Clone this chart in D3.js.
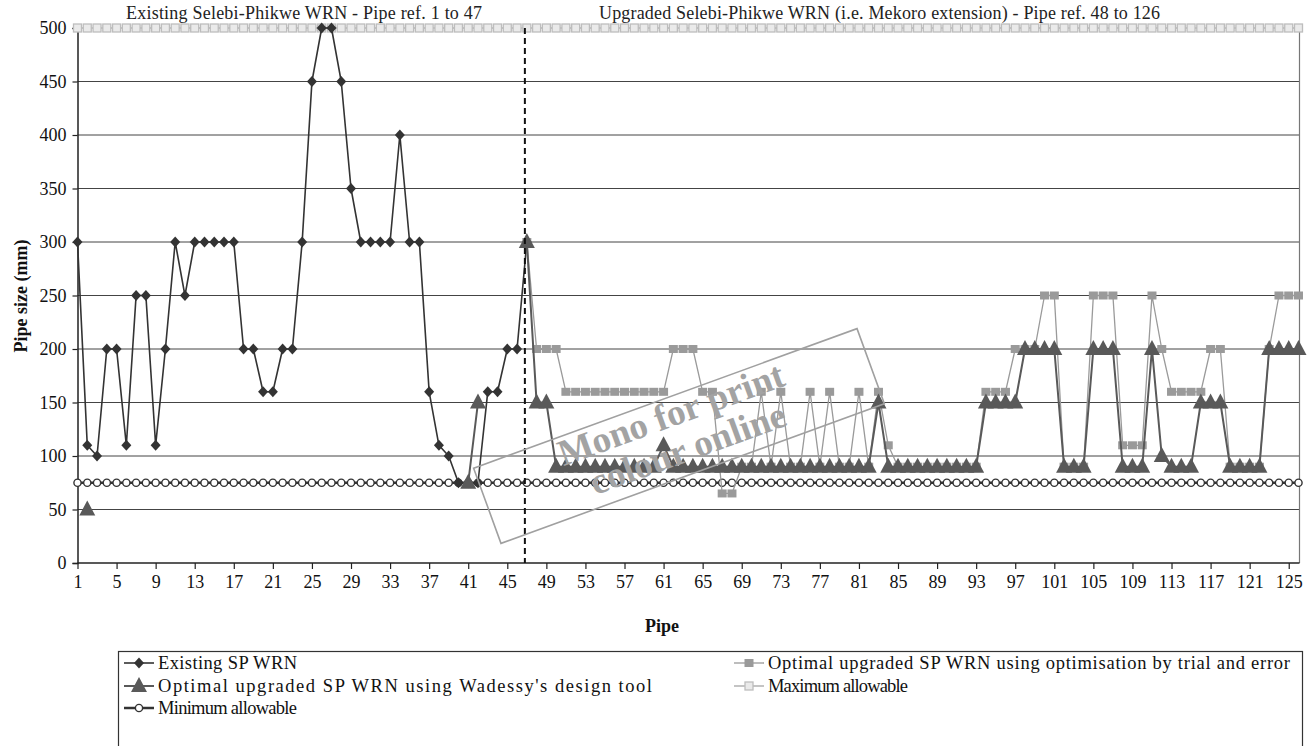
<!DOCTYPE html>
<html><head><meta charset="utf-8">
<script src="https://cdn.jsdelivr.net/npm/d3@7"></script>
<style>
body{margin:0;background:#fff}
svg text{font-family:"Liberation Serif","Times New Roman",serif}
</style>
</head><body>
<svg id="c" width="1308" height="746"></svg>
<script>
// ---------- data ----------
const pipes = d3.range(1, 127);                 // pipe references 1..126
const xTickLabels = [1,5,9,13,17,21,25,29,33,37,41,45,49,53,57,61,65,69,73,77,81,85,89,93,97,101,105,109,113,117,121,125];
const yTickLabels = [0,50,100,150,200,250,300,350,400,450,500];

// Existing SP WRN, pipes 1..47
const existingSize = [300,110,100,200,200,110,250,250,110,200,300,250,300,300,300,300,300,200,200,160,160,200,200,300,450,500,500,450,350,300,300,300,300,400,300,300,160,110,100,75,75,75,160,160,200,200,300];
// Optimal upgraded SP WRN (trial and error), pipes 47..126
const trialSize = [300,200,200,200,160,160,160,160,160,160,160,160,160,160,160,200,200,200,160,160,65,65,90,90,160,90,160,90,90,160,90,160,90,90,160,90,160,110,90,90,90,90,90,90,90,90,90,160,160,160,200,200,200,250,250,90,90,90,250,250,250,110,110,110,250,200,160,160,160,160,200,200,90,90,90,90,200,250,250,250];
// Optimal upgraded SP WRN (Wadessy's design tool), pipes 47..126
const wadessySize = [300,150,150,90,90,90,90,90,90,90,90,90,90,90,110,90,90,90,90,90,90,90,90,90,90,90,90,90,90,90,90,90,90,90,90,90,150,90,90,90,90,90,90,90,90,90,90,150,150,150,150,200,200,200,200,90,90,90,200,200,200,90,90,90,200,100,90,90,90,150,150,150,90,90,90,90,200,200,200,200];
// Wadessy's design tool, isolated points on the existing network (null = gap)
const wadessyEarlyPipes = [2,3,41,42,43];
const wadessyEarlySize = [50,null,75,150,null];
const maxAllowable = 500;
const minAllowable = 75;
const dividerPipe = 46.8;

const topTitles = ["Existing Selebi-Phikwe WRN - Pipe ref. 1 to 47",
                   "Upgraded Selebi-Phikwe WRN (i.e. Mekoro extension) - Pipe ref. 48 to 126"];
const seriesNames = ["Existing SP WRN",
  "Optimal upgraded SP WRN using optimisation by trial and error",
  "Optimal upgraded SP WRN using Wadessy's design tool",
  "Maximum allowable","Minimum allowable"];

// ---------- build series ----------
const existing = existingSize.map((v,i)=>({p:i+1, v}));
const trial = trialSize.map((v,i)=>({p:i+47, v}));
const wadessy = wadessyEarlyPipes.map((p,i)=>({p, v:wadessyEarlySize[i]}))
  .concat(wadessySize.map((v,i)=>({p:i+47, v})));
const maxS = pipes.map(p=>({p, v:maxAllowable}));
const minS = pipes.map(p=>({p, v:minAllowable}));

// ---------- chart ----------
const FONT = '"Liberation Serif","Times New Roman",serif';
const FS = 18;
const svg = d3.select("#c");
const L=77.5, R=1298.5, T=28, B=563;
const x = d3.scaleLinear().domain([1,126]).range([L,R]);
const y = d3.scaleLinear().domain([0,500]).range([B,T]);

// grid
svg.append("g").selectAll("line").data(yTickLabels.filter(d=>d>0)).join("line")
  .attr("x1",L).attr("x2",1299.5).attr("y1",d=>y(d)).attr("y2",d=>y(d))
  .attr("stroke","#444").attr("stroke-width",1);
// plot border right
svg.append("line").attr("x1",1299.5).attr("x2",1299.5).attr("y1",T).attr("y2",B)
  .attr("stroke","#777").attr("stroke-width",1.2);

// axes
const yAxis = svg.append("g").attr("transform",`translate(${L},0)`)
  .call(d3.axisLeft(y).tickValues(yTickLabels).tickSize(5).tickPadding(6).tickFormat(d3.format("d")));
const xAxis = svg.append("g").attr("transform",`translate(0,${B})`)
  .call(d3.axisBottom(x).tickValues(xTickLabels).tickSize(6).tickPadding(6).tickFormat(d3.format("d")));
[yAxis,xAxis].forEach(g=>{
  g.attr("font-family",FONT).attr("font-size",FS);
  g.select(".domain").attr("stroke","#222").attr("stroke-width",1.5);
  g.selectAll(".tick line").attr("stroke","#222").attr("stroke-width",1.2);
  g.selectAll("text").attr("font-size",FS).attr("fill","#111").attr("font-family",FONT);
});
xAxis.select(".domain").attr("d",`M${L},0H1299.5`);

function txt(sel){ return sel.append("text").attr("font-family",FONT); }
// axis titles
txt(svg).attr("x",662).attr("y",632).attr("text-anchor","middle")
  .attr("font-size",FS).attr("font-weight","bold").attr("fill","#111").text("Pipe");
txt(svg).attr("transform","translate(27,296) rotate(-90)").attr("text-anchor","middle")
  .attr("font-size",FS).attr("font-weight","bold").attr("fill","#111").text("Pipe size (mm)");

// top titles (stretched like the original rendering)
txt(svg).attr("x",126).attr("y",19).attr("font-size",FS).attr("fill","#222")
  .attr("textLength",356).attr("lengthAdjust","spacing").text(topTitles[0]);
txt(svg).attr("x",599).attr("y",19).attr("font-size",FS).attr("fill","#222")
  .attr("textLength",561).attr("lengthAdjust","spacing").text(topTitles[1]);

// markers
function marker(g, type, cx, cy){
  if(type==="diamond") g.append("path").attr("d",`M${cx},${cy-5.5}L${cx+5},${cy}L${cx},${cy+5.5}L${cx-5},${cy}Z`).attr("fill","#333");
  if(type==="square") g.append("rect").attr("x",cx-4.5).attr("y",cy-4).attr("width",9).attr("height",8).attr("fill","#9a9a9a");
  if(type==="tri") g.append("path").attr("d",`M${cx},${cy-9}L${cx+8},${cy+6}L${cx-8},${cy+6}Z`).attr("fill","#595959");
  if(type==="hsq") g.append("rect").attr("x",cx-4).attr("y",cy-4).attr("width",8).attr("height",8).attr("fill","#eaeaea").attr("stroke","#bdbdbd").attr("stroke-width",1.3);
  if(type==="circ") g.append("circle").attr("cx",cx).attr("cy",cy).attr("r",3.6).attr("fill","#fff").attr("stroke","#333").attr("stroke-width",1.4);
}
const line = d3.line().defined(d=>d.v!=null).x(d=>x(d.p)).y(d=>y(d.v));
function drawSeries(data, color, width, type){
  const g = svg.append("g");
  g.append("path").datum(data).attr("d",line).attr("fill","none")
    .attr("stroke",color).attr("stroke-width",width).attr("stroke-linejoin","round");
  data.filter(d=>d.v!=null).forEach(d=>marker(g,type,x(d.p),y(d.v)));
}
drawSeries(maxS,"#c4c4c4",2,"hsq");
drawSeries(minS,"#333",2.5,"circ");
drawSeries(existing,"#333",1.6,"diamond");
drawSeries(trial,"#9a9a9a",1.3,"square");
drawSeries(wadessy,"#595959",2,"tri");

// divider
svg.append("line").attr("x1",x(dividerPipe)).attr("x2",x(dividerPipe)).attr("y1",T).attr("y2",B)
  .attr("stroke","#111").attr("stroke-width",2).attr("stroke-dasharray","6,4");

// watermark
const wm = svg.append("g").attr("transform","translate(679,436) rotate(-20)");
wm.append("rect").attr("x",-204).attr("y",-40).attr("width",408).attr("height",80)
  .attr("fill","none").attr("stroke","#a0a0a0").attr("stroke-width",1.6);
txt(wm).attr("x",0).attr("y",-11).attr("text-anchor","middle")
  .attr("font-size",37).attr("font-weight","bold").attr("fill","#a3a3a3").text("Mono for print");
txt(wm).attr("x",4).attr("y",27).attr("text-anchor","middle")
  .attr("font-size",37).attr("font-weight","bold").attr("fill","#a3a3a3").text("colour online");

// legend
const LFS = 18.5;
const lg = svg.append("g");
lg.append("rect").attr("x",118.5).attr("y",651.5).attr("width",1184).attr("height",100)
  .attr("fill","none").attr("stroke","#333").attr("stroke-width",1.2);
const legItems = [
  {name:seriesNames[0], x:124, y:663, color:"#333", w:1.6, type:"diamond", len:139},
  {name:seriesNames[1], x:734, y:663, color:"#9a9a9a", w:1.3, type:"square", len:522},
  {name:seriesNames[2], x:124, y:686, color:"#595959", w:2, type:"tri", len:494},
  {name:seriesNames[3], x:734, y:686, color:"#c4c4c4", w:2, type:"hsq", len:140},
  {name:seriesNames[4], x:124, y:708, color:"#333", w:2.5, type:"circ", len:139}
];
legItems.forEach(it=>{
  const g = lg.append("g");
  g.append("line").attr("x1",it.x).attr("x2",it.x+30).attr("y1",it.y).attr("y2",it.y)
    .attr("stroke",it.color).attr("stroke-width",it.w);
  marker(g,it.type,it.x+15,it.y);
  txt(g).attr("x",it.x+34).attr("y",it.y+6).attr("font-size",LFS).attr("fill","#111")
    .attr("textLength",it.len).attr("lengthAdjust","spacing").text(it.name);
});
</script>
</body></html>
